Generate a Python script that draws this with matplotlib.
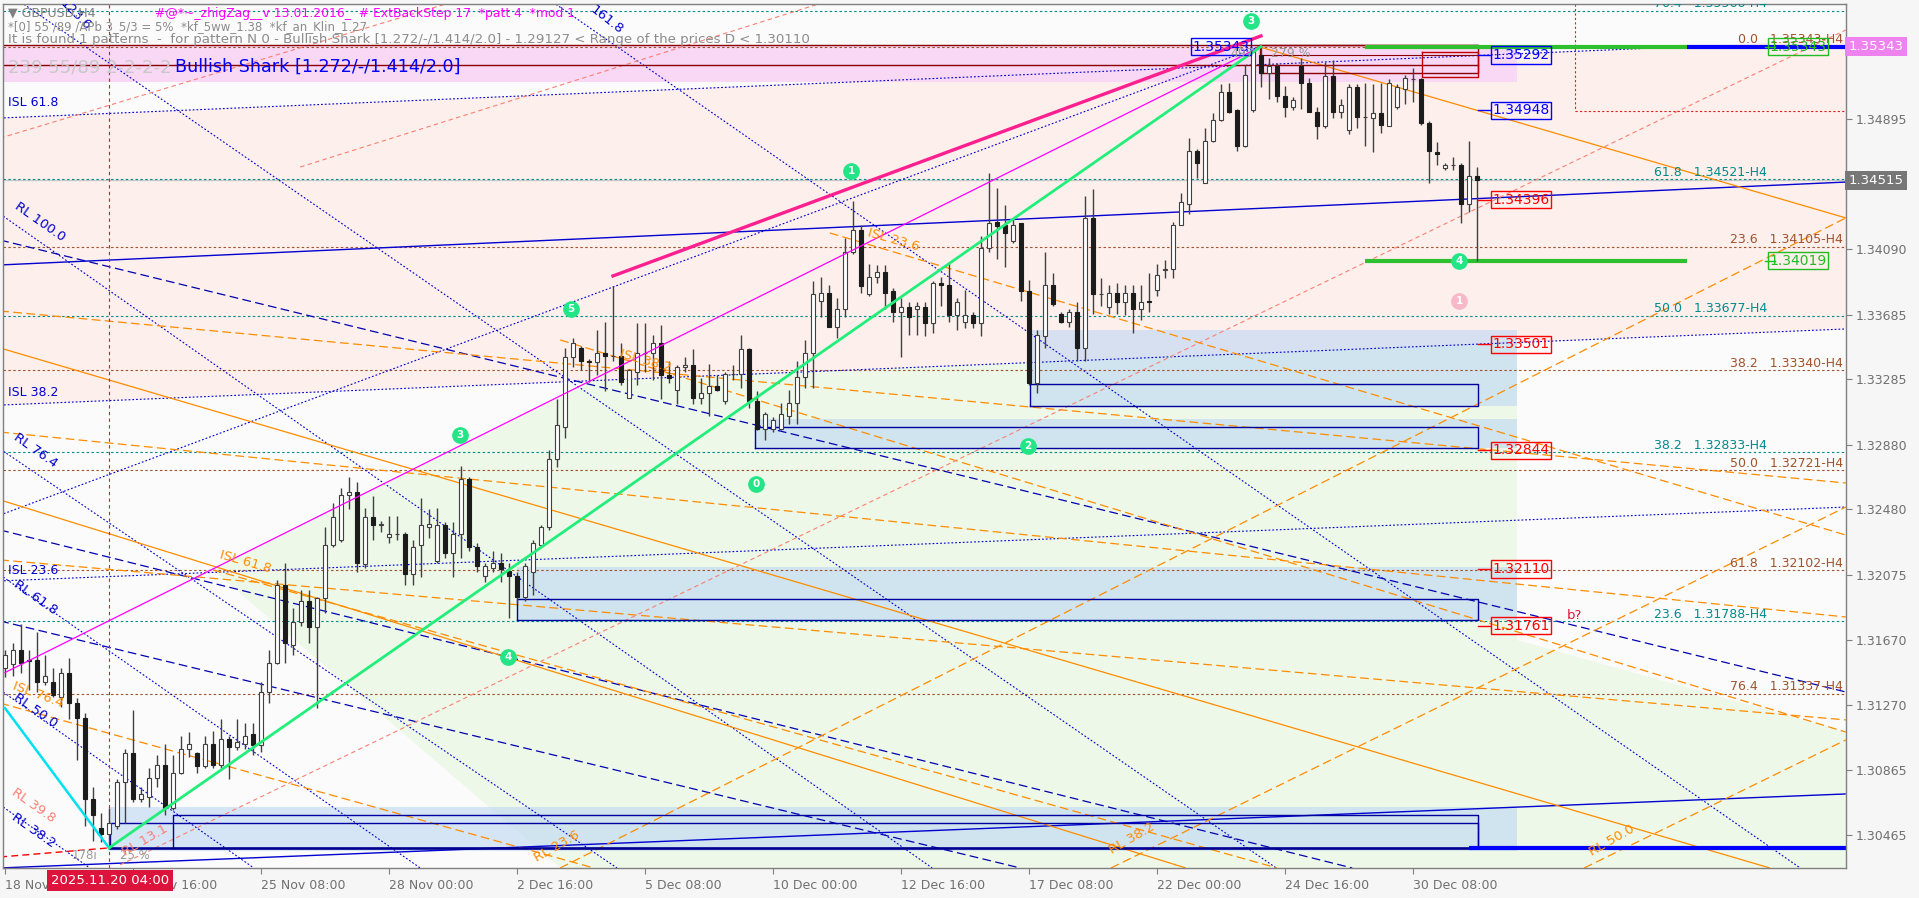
import matplotlib
matplotlib.use('Agg')
import matplotlib.pyplot as plt
from matplotlib.transforms import blended_transform_factory
import numpy as np

# ---------------- DATA ----------------
opens = [1.3150,1.3152,1.3161,1.3155,1.3155,1.3141,1.3141,1.3132,1.3147,1.3128,
         1.3119,1.3069,1.3051,1.3047,1.3052,1.3079,1.3097,1.3069,1.3070,1.3082,
         1.3090,1.3063,1.3085,1.3100,1.3097,1.3089,1.3103,1.3090,1.3106,1.3101,
         1.3103,1.3109,1.3102,1.3135,1.3153,1.3201,1.3164,1.3178,1.3191,1.3175,
         1.3193,1.3226,1.3229,1.3257,1.3259,1.3214,1.3243,1.3238,1.3231,1.3233,
         1.3233,1.3208,1.3226,1.3237,1.3216,1.3238,1.3221,1.3233,1.3267,1.3225,
         1.3207,1.3212,1.3215,1.3210,1.3207,1.3194,1.3209,1.3226,1.3237,1.3279,
         1.3299,1.3342,1.3348,1.3340,1.3339,1.3345,1.3343,1.3343,1.3317,1.3333,
         1.3345,1.3345,1.3351,1.3331,1.3322,1.3336,1.3337,1.3317,1.3320,1.3324,
         1.3315,1.3332,1.3332,1.3347,1.3315,1.3298,1.3298,1.3298,1.3306,1.3314,
         1.3330,1.3345,1.3377,1.3382,1.3361,1.3372,1.3407,1.3421,1.3381,1.3392,
         1.3395,1.3383,1.3370,1.3373,1.3372,1.3373,1.3363,1.3388,1.3387,1.3368,
         1.3364,1.3368,1.3363,1.3410,1.3426,1.3424,1.3414,1.3425,1.3383,1.3326,
         1.3355,1.3387,1.3369,1.3364,1.3370,1.3348,1.3428,1.3381,1.3373,1.3382,
         1.3376,1.3382,1.3372,1.3377,1.3384,1.3396,1.3397,1.3424,1.3437,1.3470,
         1.3450,1.3476,1.3489,1.3506,1.3495,1.3473,1.3495,1.3529,1.3518,1.3522,
         1.3504,1.3497,1.3522,1.3512,1.3494,1.3485,1.3516,1.3494,1.3483,1.3509,
         1.3491,1.3490,1.3493,1.3485,1.3497,1.3508,1.3514,1.3514,1.3487,1.3469,
         1.3459,1.3461,1.3461,1.3437,1.3454]
highs = [1.3161,1.3165,1.3177,1.3161,1.3172,1.3158,1.3150,1.3150,1.3156,1.3131,
         1.3122,1.3076,1.3060,1.3063,1.3081,1.3100,1.3124,1.3076,1.3088,1.3096,
         1.3103,1.3096,1.3108,1.3110,1.3098,1.3108,1.3111,1.3118,1.3108,1.3118,
         1.3116,1.3116,1.3141,1.3161,1.3204,1.3215,1.3187,1.3198,1.3198,1.3194,
         1.3237,1.3252,1.3261,1.3268,1.3265,1.3249,1.3256,1.3241,1.3244,1.3244,
         1.3234,1.3229,1.3255,1.3248,1.3249,1.3240,1.3240,1.3275,1.3268,1.3227,
         1.3215,1.3222,1.3221,1.3215,1.3209,1.3215,1.3229,1.3238,1.3285,1.3316,
         1.3348,1.3354,1.3349,1.3341,1.3359,1.3364,1.3386,1.3351,1.3335,1.3363,
         1.3363,1.3356,1.3362,1.3340,1.3337,1.3342,1.3347,1.3329,1.3338,1.3331,
         1.3333,1.3337,1.3356,1.3348,1.3321,1.3308,1.3305,1.3314,1.3322,1.3340,
         1.3353,1.3389,1.3392,1.3387,1.3379,1.3416,1.3439,1.3424,1.3400,1.3399,
         1.3399,1.3385,1.3379,1.3376,1.3376,1.3376,1.3389,1.3392,1.3401,1.3379,
         1.3384,1.3370,1.3417,1.3456,1.3447,1.3436,1.3428,1.3425,1.3390,1.3359,
         1.3407,1.3394,1.3370,1.3372,1.3376,1.3442,1.3446,1.3391,1.3387,1.3388,
         1.3387,1.3387,1.3387,1.3394,1.3400,1.3402,1.3426,1.3444,1.3478,1.3471,
         1.3484,1.3493,1.3511,1.3512,1.3496,1.3523,1.3533,1.35343,1.3527,1.3524,
         1.3510,1.3503,1.3527,1.3515,1.3497,1.3525,1.3526,1.3502,1.3511,1.3511,
         1.3512,1.3511,1.3512,1.3514,1.3511,1.3517,1.3521,1.3515,1.3488,1.3475,
         1.3462,1.3466,1.3462,1.3476,1.3460]
lows = [1.3144,1.3145,1.3147,1.3136,1.3135,1.3139,1.3132,1.3126,1.3118,1.3093,
        1.3052,1.3043,1.3042,1.3038,1.3050,1.3054,1.3067,1.3067,1.3064,1.3076,
        1.3059,1.3062,1.3084,1.3095,1.3085,1.3088,1.3088,1.3088,1.3081,1.3099,
        1.3100,1.3096,1.3098,1.3128,1.3152,1.3153,1.3158,1.3176,1.3165,1.3125,
        1.3184,1.3225,1.3228,1.3248,1.3209,1.3212,1.3229,1.3234,1.3227,1.3229,
        1.3201,1.3201,1.3206,1.3230,1.3215,1.3218,1.3206,1.3218,1.3222,1.3209,
        1.3203,1.3209,1.3203,1.3181,1.3190,1.3191,1.3195,1.3225,1.3235,1.3274,
        1.3292,1.3336,1.3334,1.3327,1.3331,1.3321,1.3340,1.3325,1.3317,1.3325,
        1.3333,1.3328,1.3316,1.3326,1.3313,1.3333,1.3313,1.3313,1.3306,1.3321,
        1.3313,1.3328,1.3323,1.3311,1.3297,1.3291,1.3296,1.3297,1.3301,1.3301,
        1.3323,1.3323,1.3367,1.3361,1.3354,1.3367,1.3406,1.3382,1.3380,1.3388,
        1.3372,1.3364,1.3342,1.3356,1.3356,1.3355,1.3357,1.3374,1.3364,1.3359,
        1.3360,1.3360,1.3355,1.3407,1.3403,1.3398,1.3413,1.3377,1.3325,1.3320,
        1.3348,1.3374,1.3363,1.3361,1.3340,1.3340,1.3369,1.3374,1.3369,1.3369,
        1.3368,1.3357,1.3365,1.3370,1.3380,1.3391,1.3391,1.3424,1.3431,1.3453,
        1.3450,1.3475,1.3488,1.3493,1.3470,1.3472,1.3494,1.3509,1.3502,1.3500,
        1.3491,1.3495,1.3496,1.3494,1.3477,1.3484,1.3490,1.3490,1.3480,1.3484,
        1.3473,1.3469,1.3481,1.3485,1.3496,1.3499,1.3500,1.3486,1.3450,1.3461,
        1.3458,1.3458,1.3425,1.3432,1.34019]
closes = [1.3158,1.3161,1.3153,1.3154,1.3141,1.3145,1.3133,1.3147,1.3128,1.3119,
          1.3069,1.3059,1.3047,1.3054,1.3079,1.3097,1.3069,1.3072,1.3082,1.3090,
          1.3063,1.3085,1.3100,1.3103,1.3089,1.3103,1.3090,1.3106,1.3101,1.3104,
          1.3108,1.3102,1.3135,1.3153,1.3201,1.3165,1.3178,1.3191,1.3175,1.3193,
          1.3226,1.3243,1.3257,1.3259,1.3215,1.3243,1.3238,1.3239,1.3233,1.3233,
          1.3208,1.3225,1.3238,1.3239,1.3238,1.3221,1.3233,1.3267,1.3225,1.3213,
          1.3213,1.3215,1.3211,1.3207,1.3194,1.3213,1.3227,1.3237,1.3279,1.3300,
          1.3342,1.3351,1.3340,1.3339,1.3345,1.3343,1.3343,1.3327,1.3334,1.3345,
          1.3345,1.3351,1.3331,1.3329,1.3336,1.3337,1.3317,1.3320,1.3324,1.3322,
          1.3332,1.3332,1.3347,1.3315,1.3298,1.3307,1.3303,1.3307,1.3314,1.3330,
          1.3345,1.3381,1.3382,1.3361,1.3372,1.3407,1.3421,1.3386,1.3392,1.3395,
          1.3382,1.3370,1.3373,1.3367,1.3374,1.3363,1.3388,1.3387,1.3368,1.3376,
          1.3368,1.3363,1.3410,1.3425,1.3423,1.3419,1.3424,1.3383,1.3326,1.3356,
          1.3387,1.3375,1.3364,1.3370,1.3348,1.3428,1.3381,1.3381,1.3382,1.3376,
          1.3382,1.3372,1.3376,1.3376,1.3393,1.3397,1.3424,1.3438,1.3470,1.3462,
          1.3476,1.3489,1.3506,1.3494,1.3473,1.3517,1.3531,1.3518,1.3522,1.3504,
          1.3497,1.3501,1.3512,1.3494,1.3485,1.3516,1.3494,1.3498,1.3509,1.3491,
          1.3491,1.3493,1.3486,1.3512,1.3509,1.3515,1.3514,1.3487,1.3470,1.3468,
          1.3461,1.3461,1.3437,1.3454,1.34515]

date_tick_bars = [0, 16, 32, 48, 64, 80, 96, 112, 128, 144, 160, 176]
date_tick_labels = ["18 Nov 2025", "20 Nov 16:00", "25 Nov 08:00", "28 Nov 00:00",
                    "2 Dec 16:00", "5 Dec 08:00", "10 Dec 00:00", "12 Dec 16:00",
                    "17 Dec 08:00", "22 Dec 00:00", "24 Dec 16:00", "30 Dec 08:00"]
price_ticks = [1.30465, 1.30865, 1.31270, 1.31670, 1.32075, 1.32480, 1.32880,
               1.33285, 1.33685, 1.34090, 1.34895]

# fibonacci levels
fib_teal_levels = [1.35566, 1.34521, 1.33677, 1.32833, 1.31788]
fib_teal_names = ["76.4", "61.8", "50.0", "38.2", "23.6"]
fib_brown_levels = [1.35343, 1.34105, 1.33340, 1.32721, 1.32102, 1.31337]
fib_brown_names = ["0.0", "23.6", "38.2", "50.0", "61.8", "76.4"]

# trend lines (bar0, price0, bar1, price1)
navy_solid = [(-0.6, 1.33992, 230.1, 1.34505), (-0.6, 1.30261, 230.1, 1.30719)]
navy_dotted = [(-0.6, 1.33125, 230.1, 1.33596), (-0.6, 1.32037, 230.1, 1.32494),
               (-0.6, 1.34901, 206.0, 1.35334), (-0.6, 1.32445, 157.0, 1.35347),
               (68.1, 1.35631, 224.4, 1.30261), (1.6, 1.35631, 158.9, 1.30261),
               (-0.6, 1.34307, 115.9, 1.30261), (-0.6, 1.32853, 76.5, 1.30261),
               (-0.6, 1.32074, 51.9, 1.30261), (-0.6, 1.31362, 31.1, 1.30261),
               (-0.6, 1.30651, 10.6, 1.30261)]
navy_longdash = [(-0.6, 1.34146, 230.1, 1.31350), (-0.6, 1.32352, 168.4, 1.30261),
                 (-0.6, 1.31789, 126.9, 1.30261)]
orange_solid = [(-0.6, 1.33478, 220.6, 1.30261), (156.9, 1.35340, 230.1, 1.34283),
                (-0.6, 1.32538, 147.6, 1.30261)]
orange_dash = [(-0.6, 1.33707, 230.1, 1.32643), (-0.6, 1.32958, 230.1, 1.31814),
               (103.1, 1.34190, 230.1, 1.32321), (69.4, 1.33528, 230.1, 1.31102),
               (26.0, 1.32105, 159.0, 1.30261), (-0.6, 1.31281, 73.6, 1.30261),
               (-0.6, 1.32167, 230.1, 1.31177),
               (138.25, 1.30261, 230.1, 1.32494), (69.4, 1.30261, 230.1, 1.34283),
               (197.4, 1.30261, 230.1, 1.31053)]
salmon_dash = [(14.4, 1.30280, 230.1, 1.35446), (-0.6, 1.34777, 56.75, 1.35631),
               (36.9, 1.34598, 103.25, 1.35631)]
red_dash = [(-0.6, 1.30329, 13.0, 1.30385)]

# zigzag / pattern lines
green_zz = [(13, 1.30385), (157, 1.35343)]
cyan_zz = [(0, 1.31250), (13, 1.30385)]
magenta_ln = [(0, 1.31470), (157, 1.35343)]
pink_ln = [(76, 1.33924), (157, 1.35409)]

# zones
salmon_zone = [(-0.6, 1.34901), (230.1, 1.35387), (230.1, 1.33596), (-0.6, 1.33125)]
green_zone = [(26, 1.32105), (157, 1.35343), (189, 1.35343), (189, 1.31671),
              (230.1, 1.31102), (230.1, 1.30261), (69.4, 1.30261)]
band_bars = (-0.6, 189.0)
band_prices = (1.35124, 1.35353)
blue_fills = [(13.1, 189.0, 1.30366, 1.30638), (64.0, 189.0, 1.31795, 1.32123),
              (93.75, 189.0, 1.32859, 1.33039), (128.1, 189.0, 1.33119, 1.33589)]
blue_boxes = [(13.1, 184.1, 1.30385, 1.30539), (21.0, 184.1, 1.30385, 1.30588),
              (64.0, 184.1, 1.31795, 1.31925), (93.75, 184.1, 1.32859, 1.32989),
              (128.1, 184.1, 1.33119, 1.33255)]

# right-hand price boxes
rbox_prices = [1.35292, 1.34948, 1.34396, 1.33501, 1.32844, 1.32110, 1.31761]
rbox_colors = ['#0000ff', '#0000ff', '#ff0000', '#ff0000', '#ff0000', '#ff0000', '#ff0000']

# pattern point markers
mark_bars = [155.75, 105.75, 93.9, 127.9, 56.9, 70.75, 62.9, 181.75, 181.75]
mark_prices = [1.35501, 1.34573, 1.32637, 1.32872, 1.32940, 1.33719, 1.31566, 1.34016, 1.33769]
mark_labels = ["3", "1", "0", "2", "3", "5", "4", "4", "1"]
mark_colors = ['#22e586'] * 8 + ['#f7b9c9']

current_price = 1.34515
pattern_high = 1.35343
pattern_low_D = 1.34019
X_low = 1.30385

# ---------------- FIGURE ----------------
W, H = 1919, 898
fig = plt.figure(figsize=(W / 100, H / 100), dpi=100)
fig.patch.set_facecolor('#f6f6f6')
ax = fig.add_axes([3 / W, (H - 868) / H, (1846 - 3) / W, (868 - 4) / H])
ax.set_facecolor('#fbfbfb')
XMIN, XMAX = -0.25, 230.125
YMIN, YMAX = 1.302608, 1.356066
ax.set_xlim(XMIN, XMAX)
ax.set_ylim(YMIN, YMAX)

# zones
ax.fill([p[0] for p in green_zone], [p[1] for p in green_zone], color='#edf8e8', lw=0, zorder=0.2)
ax.fill([p[0] for p in salmon_zone], [p[1] for p in salmon_zone], color='#fdefec', lw=0, zorder=0.3)
ax.fill([band_bars[0], band_bars[1], band_bars[1], band_bars[0]],
        [band_prices[0], band_prices[0], band_prices[1], band_prices[1]],
        color='#f8d8f4', lw=0, zorder=0.4)
for b0, b1, p0, p1 in blue_fills:
    ax.fill([b0, b1, b1, b0], [p0, p0, p1, p1], color='#bcd7f3', alpha=0.6, lw=0, zorder=0.5)

# fib lines
for lv in fib_teal_levels:
    ax.axhline(lv, color='#008b8b', lw=0.8, dashes=(2.2, 2.2), zorder=1)
for lv in fib_brown_levels:
    ax.axhline(lv, color='#a0522d', lw=0.8, dashes=(2.2, 2.2), zorder=1)
ax.axhline(current_price, color='#c8c8c8', lw=0.9, zorder=0.9)

def draw(lines, color, lw, dashes=None, z=1.5):
    for b0, p0, b1, p1 in lines:
        if dashes is None:
            ax.plot([b0, b1], [p0, p1], color=color, lw=lw, zorder=z, solid_capstyle='butt')
        else:
            ax.plot([b0, b1], [p0, p1], color=color, lw=lw, dashes=dashes, zorder=z)

draw(navy_solid, '#0000d0', 1.0)
draw(navy_dotted, '#0000cc', 0.8, (1.6, 1.8))
draw(navy_longdash, '#0000b0', 0.9, (7, 3.5))
draw(orange_solid, '#ff8c00', 0.9)
draw(orange_dash, '#ff8c00', 0.9, (7, 3.5))
draw(salmon_dash, '#fa8072', 0.8, (4, 3))
draw(red_dash, '#ff0000', 1.0, (5, 3))

# red dotted rectangle top right
ax.plot([196.25, 196.25], [YMAX, 1.34945], color='#dd2222', lw=0.8, dashes=(2, 2), zorder=1.5)
ax.plot([196.25, XMAX], [1.34945, 1.34945], color='#dd2222', lw=0.8, dashes=(2, 2), zorder=1.5)

# dark red lines / rects near the top
ax.plot([-0.6, 184.1], [1.35353, 1.35353], color='#8b0000', lw=1.0, zorder=1.6)
ax.plot([-0.6, 184.1], [1.35229, 1.35229], color='#8b0000', lw=1.0, zorder=1.6)
ax.plot([156.9, 184.1, 184.1, 156.9, 156.9], [1.35353, 1.35353, 1.35180, 1.35180, 1.35353],
        color='#8b0000', lw=1.0, zorder=1.6)
ax.plot([156.9, 184.1], [1.35291, 1.35291], color='#8b0000', lw=0.8, zorder=1.6)
ax.plot([177.1, 184.1, 184.1, 177.1, 177.1], [1.35310, 1.35310, 1.35155, 1.35155, 1.35310],
        color='#c00000', lw=1.0, zorder=1.6)

# blue boxes
for b0, b1, p0, p1 in blue_boxes:
    ax.plot([b0, b1, b1, b0, b0], [p0, p0, p1, p1, p0], color='#0000a0', lw=1.0, zorder=1.7)
ax.plot([13.1, 184.1], [X_low, X_low], color='#000090', lw=1.8, zorder=1.8)
ax.plot([183.0, XMAX], [X_low, X_low], color='#0000ff', lw=3.0, zorder=1.8, solid_capstyle='butt')

# green & blue thick level lines
ax.plot([170, 210.25], [pattern_high, pattern_high], color='#2ec02e', lw=3.0, zorder=2, solid_capstyle='butt')
ax.plot([210.25, XMAX], [pattern_high, pattern_high], color='#0000ff', lw=3.0, zorder=2, solid_capstyle='butt')
ax.plot([170, 210.25], [pattern_low_D, pattern_low_D], color='#2ec02e', lw=3.0, zorder=2, solid_capstyle='butt')

# vertical red dashed line
ax.axvline(13, color='#dc143c', lw=0.8, dashes=(3, 3), zorder=1.5)

# candles
x = np.arange(len(opens))
o = np.array(opens); c = np.array(closes); h = np.array(highs); l = np.array(lows)
up = c >= o
ax.vlines(x, l, h, color='#404040', lw=1.0, zorder=4)
ax.bar(x[up], c[up] - o[up], bottom=o[up], width=0.62, color='white', edgecolor='#404040', lw=0.8, zorder=4.1)
ax.bar(x[~up], o[~up] - c[~up], bottom=c[~up], width=0.62, color='#1c1c1c', edgecolor='#1c1c1c', lw=0.8, zorder=4.1)

# zigzag lines
ax.plot([p[0] for p in magenta_ln], [p[1] for p in magenta_ln], color='#ff00ff', lw=0.9, zorder=4.5)
ax.plot([p[0] for p in cyan_zz], [p[1] for p in cyan_zz], color='#00e0f0', lw=1.8, zorder=4.5)
ax.plot([p[0] for p in green_zz], [p[1] for p in green_zz], color='#22ee7a', lw=2.0, zorder=4.6)
ax.plot([p[0] for p in pink_ln], [p[1] for p in pink_ln], color='#ff1f8e', lw=2.4, zorder=4.6)

# markers
for b, p, t, col in zip(mark_bars, mark_prices, mark_labels, mark_colors):
    ax.plot([b], [p], 'o', ms=11, color=col, mec=col, zorder=6)
    ax.text(b, p, t, color='white', fontsize=7.5, fontweight='bold', ha='center', va='center', zorder=6.1)

# fib labels
for lv, nm in zip(fib_teal_levels, fib_teal_names):
    ax.text(220.25, lv + 0.00004, f"{nm}   {lv:.5f}-H4", color='#008b8b', fontsize=9,
            ha='right', va='bottom', zorder=5, clip_on=True)
for lv, nm in zip(fib_brown_levels, fib_brown_names):
    ax.text(229.75, lv + 0.00004, f"{nm}   {lv:.5f}-H4", color='#a0522d', fontsize=9,
            ha='right', va='bottom', zorder=5, clip_on=True)

# right-hand price boxes
for p, col in zip(rbox_prices, rbox_colors):
    ax.plot([184.1, 185.6], [p, p], color=col, lw=1.0, zorder=5)
    ax.text(189.5, p, f"{p:.5f}", color=col, fontsize=10, ha='center', va='center', zorder=5,
            bbox=dict(boxstyle='square,pad=0.12', fc='none', ec=col, lw=1.0))
for p in [pattern_high, pattern_low_D]:
    ax.plot([220.0, 221.2], [p, p], color='#22bb22', lw=1.0, zorder=5)
    ax.text(224.1, p, f"{p:.5f}", color='#22bb22', fontsize=10, ha='center', va='center', zorder=5,
            bbox=dict(boxstyle='square,pad=0.12', fc='none', ec='#22bb22', lw=1.0))
ax.text(152, pattern_high, f"{pattern_high:.5f}", color='#0000ff', fontsize=10, ha='center', va='center',
        zorder=5, bbox=dict(boxstyle='square,pad=0.12', fc='none', ec='#0000ff', lw=1.0))
ax.text(154.6, 1.35298, "497", color='#999999', fontsize=9, ha='center', va='center', zorder=5.2)
ax.text(158.3, 1.35298, "279 %", color='#999999', fontsize=9, ha='left', va='center', zorder=5.2)
ax.text(195.25, 1.31826, "b?", color='#dc143c', fontsize=9.5, ha='left', va='center', zorder=5)
ax.text(10.0, 1.30341, "178i", color='#999999', fontsize=8.5, ha='center', va='center', zorder=5)
ax.text(16.25, 1.30341, "25 %", color='#999999', fontsize=8.5, ha='center', va='center', zorder=5)

# rotated line labels
rot_labels = [("RL 100.0", 4.4, 1.34258, -35, '#0000cc'), ("RL 76.4", 3.75, 1.32847, -35, '#0000cc'),
              ("RL 61.8", 3.75, 1.31937, -35, '#0000cc'), ("RL 50.0", 3.75, 1.31238, -35, '#0000cc'),
              ("RL 38.2", 3.6, 1.30495, -35, '#0000cc'), ("RL 39.8", 3.6, 1.30650, -35, '#fa8072'),
              ("ISL 76.4", 4.1, 1.31330, -20, '#ff8c00'), ("ISL 61.8", 30.0, 1.32154, -16, '#ff8c00'),
              ("ISL 38.2", 80.1, 1.33398, -16, '#ff8c00'), ("ISL 23.6", 111.0, 1.34146, -16, '#ff8c00'),
              ("RL 13.1", 17.5, 1.30434, 30, '#fa8072'), ("RL 23.6", 69.0, 1.30397, 30, '#ff8c00'),
              ("RL 38.2", 140.9, 1.30446, 30, '#ff8c00'), ("RL 50.0", 200.9, 1.30434, 30, '#ff8c00'),
              ("161.8", 75.25, 1.35508, -38, '#0000cc'), ("123.6", 8.75, 1.35540, -45, '#0000cc')]
for t, b, p, r, col in rot_labels:
    ax.text(b, p, t, color=col, fontsize=9.5, rotation=r, ha='center', va='center',
            rotation_mode='anchor', zorder=5, clip_on=True)

# header texts (axes fraction)
def fx(px):
    return (px - 3) / 1843
def fy(py):
    return 1 - (py - 4) / 864
ax.text(fx(8), fy(13), "\u25BC GBPUSD,H4", transform=ax.transAxes, color='#808080', fontsize=9, va='center', zorder=7)
ax.text(fx(155), fy(14), "#@*~_zhigZag__v 13.01.2016_  # ExtBackStep 17  *patt 4  *mod 1",
        transform=ax.transAxes, color='#ff00ff', fontsize=8.9, va='center', zorder=7)
ax.text(fx(8), fy(27), "*[0] 55 /89 /APb 3_5/3 = 5%  *kf_5ww_1.38  *kf_an_Klin_1.27",
        transform=ax.transAxes, color='#8c8c8c', fontsize=8.5, va='center', zorder=7)
ax.text(fx(8), fy(39), "It is found 1 patterns  -  for pattern N 0 - Bullish Shark [1.272/-/1.414/2.0] - 1.29127 < Range of the prices D < 1.30110",
        transform=ax.transAxes, color='#8c8c8c', fontsize=9.6, va='center', zorder=7)
ax.text(fx(8), fy(67), "239 55/89 2-2-2-2", transform=ax.transAxes, color='#c8c8c8', fontsize=13, va='center', zorder=7)
ax.text(fx(175), fy(67), "Bullish Shark [1.272/-/1.414/2.0]", transform=ax.transAxes, color='#0000ff',
        fontsize=12.6, va='center', zorder=7)
for lbl, py in [("ISL 61.8", 103), ("ISL 38.2", 392), ("ISL 23.6", 570)]:
    ax.text(fx(8), fy(py), lbl, transform=ax.transAxes, color='#0000cd', fontsize=9, va='center', zorder=7)

# axes styling
for s in ax.spines.values():
    s.set_color('#808080')
    s.set_linewidth(1.0)
ax.yaxis.tick_right()
ax.set_yticks(price_ticks)
ax.set_yticklabels([f"{v:.5f}" for v in price_ticks])
ax.tick_params(axis='y', colors='#808080', labelcolor='#707070', labelsize=9, length=4, pad=3, direction='out')
ax.set_xticks(date_tick_bars)
ax.set_xticklabels(date_tick_labels)
ax.tick_params(axis='x', colors='#808080', labelcolor='#707070', labelsize=9, length=4, pad=4, direction='out')
for lab in ax.get_xticklabels():
    lab.set_ha('left')

# axis price boxes
tr_y = blended_transform_factory(ax.transAxes, ax.transData)
ax.text(1.0012, pattern_high, f"{pattern_high:.5f}", transform=tr_y, color='white', fontsize=9.5,
        ha='left', va='center', zorder=8, clip_on=False,
        bbox=dict(boxstyle='square,pad=0.25', fc='#ee82ee', ec='none'))
ax.text(1.0012, current_price, f"{current_price:.5f}", transform=tr_y, color='white', fontsize=9.5,
        ha='left', va='center', zorder=8, clip_on=False,
        bbox=dict(boxstyle='square,pad=0.25', fc='#777777', ec='none'))
tr_x = blended_transform_factory(ax.transData, ax.transAxes)
ax.text(13.1, -0.0145, "2025.11.20 04:00", transform=tr_x, color='white', fontsize=9.5,
        ha='center', va='center', zorder=8, clip_on=False,
        bbox=dict(boxstyle='square,pad=0.3', fc='#dc143c', ec='none'))

fig.savefig('out.png', dpi=100, facecolor=fig.get_facecolor())
